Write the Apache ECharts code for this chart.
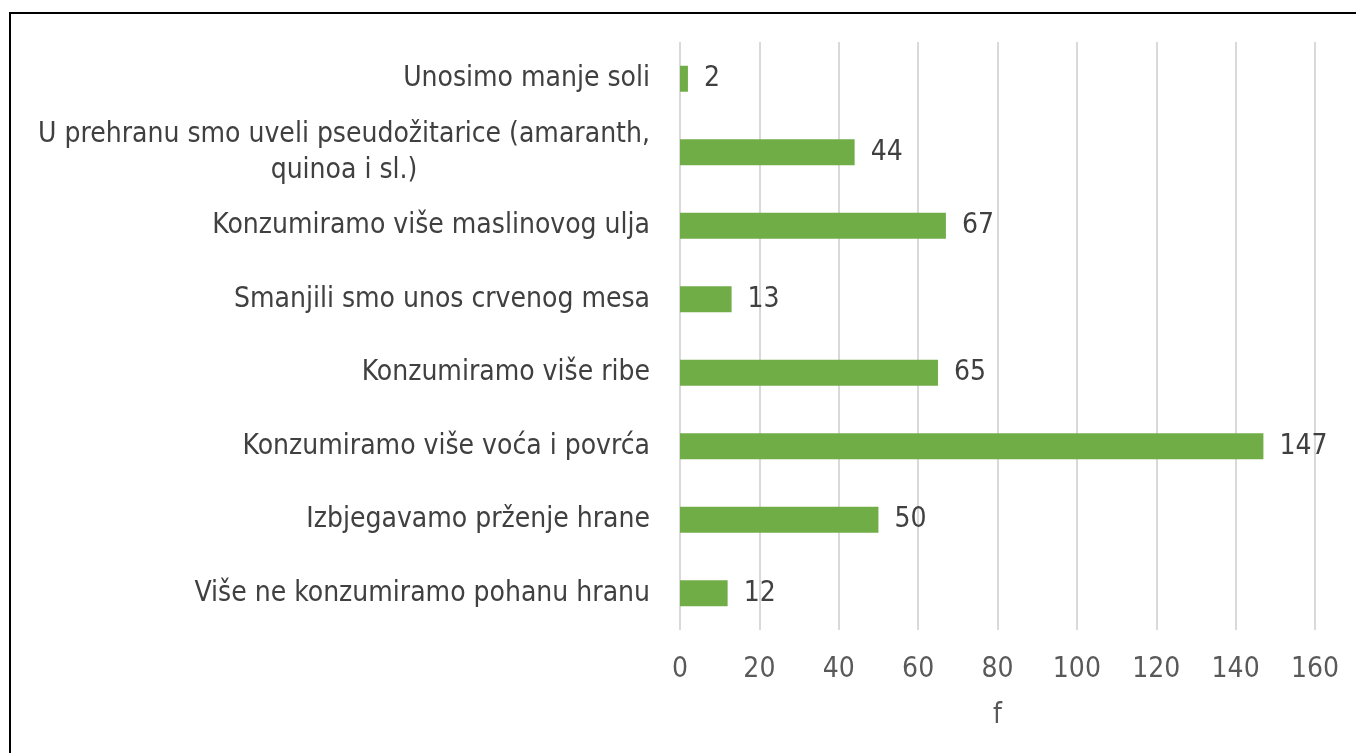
<!doctype html>
<html>
<head>
<meta charset="utf-8">
<title>Promjene prehrane</title>
<script src="https://cdn.jsdelivr.net/npm/echarts@6/dist/echarts.min.js"></script>
<style>
body { margin: 0; background: #fff; }
#frame {
	position: absolute; left: 9px; top: 12px; width: 1400px; height: 800px;
	border: 2px solid #000; box-sizing: border-box;
}
#main { position: absolute; left: 0; top: 0; width: 1356px; height: 753px; }
</style>
</head>
<body>
<div id="frame"></div>
<div id="main"></div>
<script>
// categories from bottom to top (category axis runs upward)
var categories = [
	'Više ne konzumiramo pohanu hranu',
	'Izbjegavamo prženje hrane',
	'Konzumiramo više voća i povrća',
	'Konzumiramo više ribe',
	'Smanjili smo unos crvenog mesa',
	'Konzumiramo više maslinovog ulja',
	'U prehranu smo uveli pseudožitarice (amaranth,\nquinoa i sl.)',
	'Unosimo manje soli'
];
var values = [12, 50, 147, 65, 13, 67, 44, 2];
var xTicks = [0, 160, 20];   // min, max, step

var font = 'DejaVu Sans Condensed';
var fs = 28;

var myChart = echarts.init(document.getElementById('main'));
var option = {
	animation: false,
	grid: { left: 680, right: 41, top: 42, bottom: 123, containLabel: false },
	xAxis: {
		type: 'value',
		min: xTicks[0], max: xTicks[1], interval: xTicks[2],
		name: 'f', nameLocation: 'middle', nameGap: 72,
		nameTextStyle: { color: '#595959', fontSize: fs, fontFamily: font },
		axisLine: { show: false },
		axisTick: { show: false },
		axisLabel: { color: '#595959', fontSize: fs, fontFamily: font, margin: 26 },
		splitLine: { lineStyle: { color: '#d9d9d9', width: 2 } }
	},
	yAxis: {
		type: 'category',
		data: categories,
		axisLine: { show: false },
		axisTick: { show: false },
		axisLabel: {
			color: '#404040', fontSize: fs, fontFamily: font, margin: 30, lineHeight: 36,
			formatter: function (v) {
				if (v.indexOf('\n') < 0) return v;
				return v.split('\n').map(function (l) { return '{c|' + l + '}'; }).join('\n');
			},
			rich: { c: { width: 612, align: 'center', color: '#404040', fontSize: fs, fontFamily: font, lineHeight: 36 } }
		}
	},
	series: [{
		type: 'bar',
		data: values,
		barWidth: 26,
		itemStyle: { color: '#70AD47' },
		label: {
			show: true, position: 'right', distance: 16,
			color: '#404040', fontSize: fs, fontFamily: font
		}
	}]
};
myChart.setOption(option);
</script>
</body>
</html>
